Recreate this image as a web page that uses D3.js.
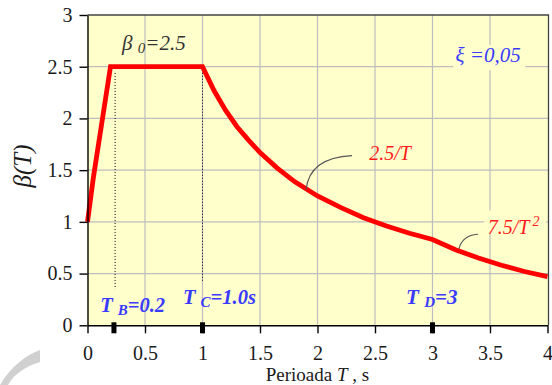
<!DOCTYPE html>
<html><head><meta charset="utf-8">
<script src="https://cdn.jsdelivr.net/npm/d3@7"></script>
<style>
html,body{margin:0;padding:0;background:#fff;font-family:'Liberation Serif',serif;}
svg text, svg tspan{font-family:'Liberation Serif',serif;}
</style></head>
<body>
<script>
// ---- data ----
const periodT = [0, 0.05, 0.2, 1.0, 1.1, 1.2, 1.3, 1.4, 1.5, 1.65, 1.8, 2.0, 2.2, 2.4, 2.6, 2.8, 3.0, 3.2, 3.4, 3.6, 3.8, 4.0];
const betaT   = [1.0, 1.42, 2.5, 2.5, 2.27, 2.08, 1.92, 1.79, 1.67, 1.52, 1.39, 1.25, 1.14, 1.04, 0.96, 0.89, 0.83, 0.73, 0.65, 0.58, 0.52, 0.47];
const xTicks = [0, 0.5, 1, 1.5, 2, 2.5, 3, 3.5, 4];
const yTicks = [0, 0.5, 1, 1.5, 2, 2.5, 3];
const cornerT = [0.24, 1.0];          // dotted verticals
const cornerTop = [2.44, 2.5];
const cornerBottom = [0.35, 0.42];
const markT = [0.23, 1.0, 3.0];        // heavy marks on the T axis

const W = 552, H = 385;
const x = d3.scaleLinear().domain([0, 4]).range([87.5, 547.5]);
const y = d3.scaleLinear().domain([0, 3]).range([325.3, 15]);
const FONT = "Liberation Serif";

const svg = d3.select("body").append("svg").attr("width", W).attr("height", H)
  .attr("font-family", FONT).style("font-family", FONT);

// watermark
svg.append("path")
  .attr("d", "M0,385 C10,368 24,356 40,350 L40,362 C26,366 14,374 8,385 Z")
  .attr("fill", "#d0d0d0");

// plot background
svg.append("rect").attr("x", x(0)).attr("y", y(3))
  .attr("width", x(4) - x(0) + 1).attr("height", y(0) - y(3))
  .attr("fill", "#ffffcc");

// grid
const grid = svg.append("g").attr("stroke", "#bdbdbd").attr("stroke-width", 1.2);
grid.selectAll(".gx").data(xTicks.filter(d => d > 0 && d < 4)).join("line")
  .attr("x1", d => x(d)).attr("x2", d => x(d)).attr("y1", y(0)).attr("y2", y(3));
grid.selectAll(".gy").data(yTicks.filter(d => d > 0 && d < 3)).join("line")
  .attr("y1", d => y(d)).attr("y2", d => y(d)).attr("x1", x(0)).attr("x2", x(4) + 1);

// frame (top & right)
svg.append("path")
  .attr("d", `M${x(0)},${y(3)}H${x(4) + 1}V${y(0)}`)
  .attr("fill", "none").attr("stroke", "#444").attr("stroke-width", 1.3);

// dotted corner lines
svg.selectAll(".dot").data(cornerT).join("line")
  .attr("x1", d => x(d)).attr("x2", d => x(d))
  .attr("y1", (d, i) => y(cornerTop[i])).attr("y2", (d, i) => y(cornerBottom[i]))
  .attr("stroke", "#000").attr("stroke-width", 1).attr("stroke-dasharray", "1,2");

// label backgrounds + labels
const lab = svg.append("g");
function bgText(tx, ty, w, h) {
  lab.append("rect").attr("x", tx).attr("y", ty).attr("width", w).attr("height", h).attr("fill", "#ffffcc");
}
bgText(x(3.18), y(2.71), 72, 25);
bgText(x(3.45), y(1.11), 62, 23);

// curve
svg.append("path")
  .datum(periodT.map((t, i) => [t, betaT[i]]))
  .attr("d", d3.line().x(d => x(d[0])).y(d => y(d[1])))
  .attr("fill", "none").attr("stroke", "#ff0000").attr("stroke-width", 4.8)
  .attr("stroke-linejoin", "miter");

// leaders
svg.append("path")
  .attr("d", `M${x(2.3)},${y(1.64)} Q${x(1.93)},${y(1.62)} ${x(1.9)},${y(1.31)}`)
  .attr("fill", "none").attr("stroke", "#555").attr("stroke-width", 1.1);
svg.append("path")
  .attr("d", `M${x(3.395)},${y(0.88)} Q${x(3.26)},${y(0.87)} ${x(3.23)},${y(0.74)}`)
  .attr("fill", "none").attr("stroke", "#555").attr("stroke-width", 1.1);

// axes
const xAxis = svg.append("g").attr("transform", `translate(0,${y(0)})`)
  .call(d3.axisBottom(x).tickValues(xTicks).tickFormat(d => String(d)).tickSizeInner(8).tickSizeOuter(0).tickPadding(13));
const yAxis = svg.append("g").attr("transform", `translate(${x(0)},0)`)
  .call(d3.axisLeft(y).tickValues(yTicks).tickFormat(d => String(d)).tickSizeInner(8).tickSizeOuter(0).tickPadding(7));
[xAxis, yAxis].forEach(a => {
  a.attr("font-family", FONT).attr("font-size", 20);
  a.select(".domain").attr("stroke", "#000").attr("stroke-width", 1.4);
  a.selectAll(".tick line").attr("stroke", "#000").attr("stroke-width", 1.4);
  a.selectAll(".tick text").attr("fill", "#1a1a1a")
    .attr("font-family", FONT).style("font-family", FONT).attr("font-size", 20);
});

// heavy marks
svg.selectAll(".mark").data(markT).join("rect")
  .attr("x", d => x(d) - 2.5).attr("y", y(0) - 3).attr("width", 5).attr("height", 11)
  .attr("fill", "#000");

// annotations
function rich(tx, ty, parts, opts) {
  const t = lab.append("text").attr("x", tx).attr("y", ty)
    .attr("fill", opts.fill)
    .attr("font-family", FONT).style("font-family", FONT)
    .attr("font-style", "italic").attr("font-size", opts.size)
    .attr("font-weight", opts.weight || "normal");
  parts.forEach(p => {
    const s = t.append("tspan").text(p.t);
    if (p.size) s.attr("font-size", p.size);
    if (p.dy) s.attr("dy", p.dy);
    if (p.dx) s.attr("dx", p.dx);
  });
  return t;
}
rich(x(0.30), y(2.66), [{t: "β "}, {t: "0", size: 15, dy: 3}, {t: "=2.5", dy: -3}], {fill: "#333", size: 21});
rich(x(3.2), y(2.55), [{t: "ξ =0,05"}], {fill: "#3a3aff", size: 21});
rich(x(2.45), y(1.6), [{t: "2.5/T"}], {fill: "#ff1a1a", size: 20});
rich(x(3.48), y(0.88), [{t: "7.5/T"}, {t: "2", size: 14, dy: -8, dx: 3}], {fill: "#ff1a1a", size: 20});
rich(x(0.11), y(0.13), [{t: "T "}, {t: "B", size: 15, dy: 3}, {t: "=0.2", dy: -3}], {fill: "#3a3aff", size: 20.5, weight: "bold"});
rich(x(0.83), y(0.21), [{t: "T "}, {t: "C", size: 15, dy: 3}, {t: "=1.0s", dy: -3}], {fill: "#3a3aff", size: 20.5, weight: "bold"});
rich(x(2.77), y(0.21), [{t: "T "}, {t: "D", size: 15, dy: 3}, {t: "=3", dy: -3}], {fill: "#3a3aff", size: 21, weight: "bold"});

// axis titles
const xt = svg.append("text").attr("x", 317.5).attr("y", 381).attr("text-anchor", "middle")
  .attr("font-family", FONT).style("font-family", FONT).attr("font-size", 19).attr("fill", "#1a1a1a");
xt.append("tspan").text("Perioada ");
xt.append("tspan").text("T").attr("font-style", "italic");
xt.append("tspan").text(" , s");

svg.append("text").attr("transform", "translate(31,166) rotate(-90)").attr("text-anchor", "middle")
  .attr("font-family", FONT).style("font-family", FONT).attr("font-size", 25).attr("font-style", "italic")
  .attr("fill", "#1a1a1a").text("β(T)");
</script>
</body></html>
